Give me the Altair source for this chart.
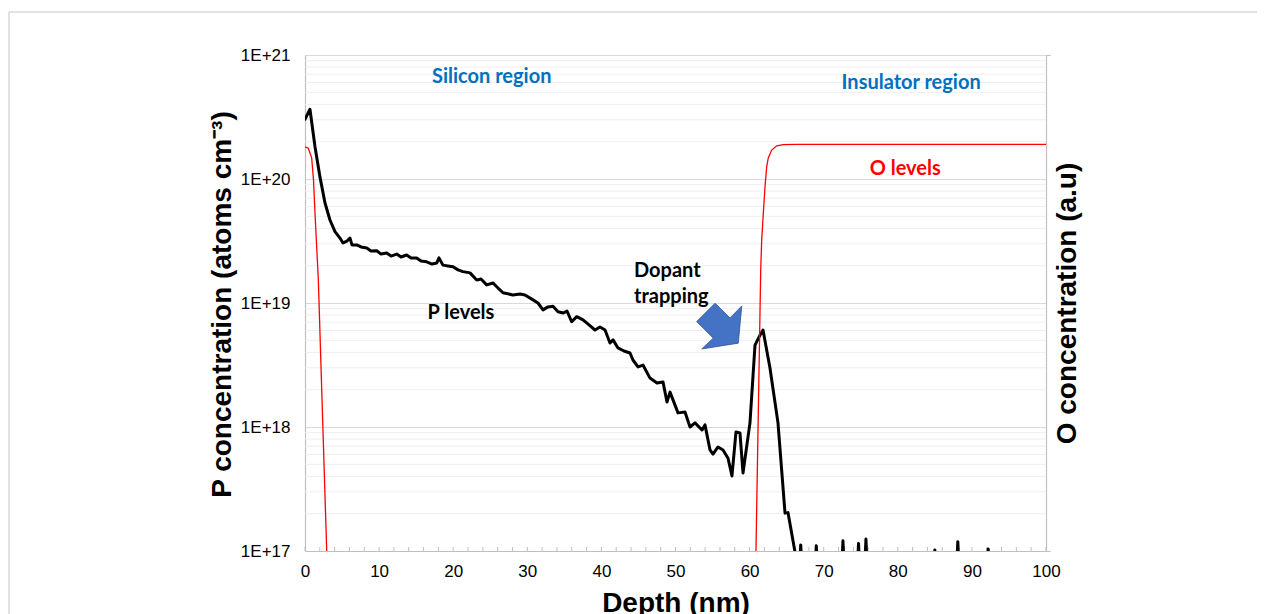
import altair as alt
import pandas as pd

# ---------------- data ----------------
# P (phosphorus) SIMS profile, atoms cm^-3 vs depth (nm)
depth_p = [0.0, 0.67, 1.35, 2.02, 2.70, 3.37, 4.05, 4.72, 5.13, 5.67,
           6.07, 6.34, 6.98, 7.56, 8.33, 8.91, 9.68, 10.26, 11.03, 11.61,
           12.38, 12.96, 13.72, 14.30, 15.07, 15.65, 16.42, 17.14, 17.77, 18.08,
           18.62, 19.30, 19.97, 20.65, 21.32, 22.27, 23.17, 23.75, 24.52, 25.37,
           26.05, 26.72, 28.07, 29.01, 29.69, 30.77, 31.44, 32.12, 32.79, 33.47,
           34.14, 34.86, 35.36, 35.99, 36.67, 37.52, 38.33, 39.14, 39.81, 40.49,
           41.16, 41.57, 42.24, 43.05, 43.86, 44.26, 44.94, 45.61, 46.56, 47.50,
           48.31, 48.85, 49.26, 50.34, 51.28, 51.96, 52.63, 53.58, 53.98, 54.66,
           55.06, 55.74, 56.41, 57.09, 57.62, 58.16, 58.70, 59.11, 60.05, 60.73,
           61.40, 61.81, 62.75, 63.83, 64.78, 65.18, 66.13, 66.45,
           66.6, 66.9, 67.2, 68.7, 69.0, 69.3, 72.3, 72.6, 72.9, 74.4,
           74.7, 75.0, 75.4, 75.7, 76.0, 84.7, 85.0, 85.3, 87.8, 88.1,
           88.4, 91.9, 92.2, 92.5, 100.0]
p_conc = [3.03e20, 3.65e20, 1.82e20, 1.04e20, 6.4e19, 4.67e19, 3.76e19, 3.34e19, 3.05e19, 3.16e19,
          3.34e19, 2.94e19, 2.94e19, 2.83e19, 2.78e19, 2.63e19, 2.64e19, 2.48e19, 2.53e19, 2.39e19,
          2.48e19, 2.35e19, 2.44e19, 2.31e19, 2.31e19, 2.18e19, 2.15e19, 2.06e19, 2.10e19, 2.31e19,
          2.02e19, 1.99e19, 1.96e19, 1.85e19, 1.79e19, 1.75e19, 1.53e19, 1.56e19, 1.40e19, 1.45e19,
          1.32e19, 1.21e19, 1.16e19, 1.18e19, 1.16e19, 1.06e19, 1.0e19, 8.8e18, 9.3e18, 9.4e18,
          8.5e18, 8.3e18, 8.6e18, 7.06e18, 7.76e18, 7.3e18, 6.65e18, 6.06e18, 6.4e18, 6.06e18,
          4.76e18, 5.04e18, 4.34e18, 4.1e18, 3.95e18, 3.47e18, 3.05e18, 3.16e18, 2.48e18, 2.26e18,
          2.31e18, 1.59e18, 1.91e18, 1.30e18, 1.32e18, 1.0e18, 1.08e18, 9.46e17, 1.04e18, 6.53e17,
          6.05e17, 6.9e17, 6.53e17, 5.6e17, 4.03e17, 9.1e17, 8.95e17, 4.26e17, 1.08e18, 4.58e18,
          5.5e18, 6.06e18, 2.99e18, 1.08e18, 2.02e17, 2.04e17, 9.8e16, 5e16,
          5e16, 1.12e17, 5e16, 5e16, 1.10e17, 5e16, 5e16, 1.21e17, 5e16, 5e16,
          1.15e17, 5e16, 5e16, 1.25e17, 5e16, 5e16, 1.02e17, 5e16, 5e16, 1.19e17,
          5e16, 5e16, 1.04e17, 5e16, 5e16]

# O profile (arbitrary units, drawn on the same log span), two segments
depth_o = [0.0, 0.45, 0.9, 1.15, 1.35, 1.8, 2.93, 3.2,
           60.8, 60.86, 61.5, 61.63, 61.85, 62.08, 62.31, 62.52, 62.98, 63.66, 64.55, 66.36, 100.0]
o_conc = [1.82e20, 1.77e20, 1.48e20, 9.8e19, 5.3e19, 1.53e19, 1.0e17, 5e16,
          5e16, 1.0e17, 1.85e19, 3.2e19, 5.3e19, 8.7e19, 1.26e20, 1.48e20, 1.71e20, 1.85e20, 1.89e20, 1.9e20, 1.9e20]
o_segment = ["surface"] * 8 + ["insulator"] * 13

# axis ticks
x_ticks = [0, 10, 20, 30, 40, 50, 60, 70, 80, 90, 100]
x_minor_ticks = list(range(0, 101, 2))
y_ticks = [1e17, 1e18, 1e19, 1e20, 1e21]
y_minor_ticks = [m * 10.0 ** e for e in range(17, 21) for m in range(2, 10)]

# annotations
ann_center_text = ["Silicon region", "Insulator region", "O levels", "P levels"]
ann_center_x = [25.2, 81.8, 81.0, 21.05]
ann_center_y = [6.65e20, 5.94e20, 1.2e20, 8.3e18]
ann_center_color = ["#0070C0", "#0070C0", "#FF0000", "#000000"]
ann_left_text = ["Dopant", "trapping"]
ann_left_x = [44.4, 44.4]
ann_left_y = [1.81e19, 1.12e19]
arrow_x = [55.9]
arrow_y = [6.53e18]

assert len(depth_p) == len(p_conc)
assert len(depth_o) == len(o_conc) == len(o_segment)

# ---------------- chart ----------------
W, H = 741, 496
AX = "#BFBFBF"


def xs():
    return alt.Scale(domain=[0, 100], nice=False, zero=False)


def ys():
    return alt.Scale(type="log", domain=[1e17, 1e21], nice=False)


p_df = pd.DataFrame({"depth": depth_p, "p": p_conc})
o_df = pd.DataFrame({"depth": depth_o, "o": o_conc, "seg": o_segment})

one = alt.Data(values=[{}])
frame_top = alt.Chart(one).mark_rule(color="#D9D9D9", strokeWidth=1.5).encode(
    x=alt.value(-296), x2=alt.value(W + 220), y=alt.value(-43))
frame_left = alt.Chart(one).mark_rule(color="#D9D9D9", strokeWidth=1.5).encode(
    x=alt.value(-296), y=alt.value(-43), y2=alt.value(H + 80))

minor_grid = alt.Chart(pd.DataFrame({"v": y_minor_ticks})).mark_rule(
    color="#EEEEEE", strokeWidth=1).encode(
    y=alt.Y("v:Q", scale=ys(), axis=None), x=alt.value(0), x2=alt.value(W))

x_minor = alt.Chart(pd.DataFrame({"t": x_minor_ticks})).mark_rule(
    color=AX, strokeWidth=1).encode(
    x=alt.X("t:Q", scale=xs(), axis=None), y=alt.value(H - 4), y2=alt.value(H))

x_axis = alt.Axis(values=x_ticks, grid=False, ticks=False, domainColor=AX, domainWidth=1.2,
                  labelFont="Liberation Sans", labelFontSize=17, labelColor="#000000",
                  labelPadding=12, labelFlush=False,
                  title="Depth (nm)", titleFont="Liberation Sans", titleFontSize=28,
                  titleFontWeight="bold", titleColor="#000000", titleY=60.5,
                  titleBaseline="alphabetic")
y_axis = alt.Axis(values=y_ticks, grid=True, gridColor="#D9D9D9", ticks=False,
                  domainColor=AX, domainWidth=1.2,
                  labelExpr="'1E+' + round(log(datum.value) / LN10)",
                  labelFont="Liberation Sans", labelFontSize=17, labelColor="#000000",
                  labelPadding=15, labelFlush=False,
                  title="P concentration (atoms cm\u207b\u00b3)", titleFont="Liberation Sans",
                  titleFontSize=28, titleFontWeight="bold", titleColor="#000000",
                  titleAngle=270, titleX=-75, titleY=249, titleAlign="center",
                  titleBaseline="alphabetic")

p_line = alt.Chart(p_df).mark_line(color="#000000", strokeWidth=3, clip=True,
                                    strokeJoin="round", strokeCap="round").encode(
    x=alt.X("depth:Q", scale=xs(), axis=x_axis),
    y=alt.Y("p:Q", scale=ys(), axis=y_axis),
    order="depth:Q")

center_df = pd.DataFrame({"t": ann_center_text, "x": ann_center_x, "y": ann_center_y,
                          "c": ann_center_color})
texts_c = alt.Chart(center_df).mark_text(font="Lato", fontWeight="bold", fontSize=20,
                                          align="center", baseline="middle").encode(
    x=alt.X("x:Q", scale=xs(), axis=None), y=alt.Y("y:Q", scale=ys(), axis=None),
    text="t:N", color=alt.Color("c:N", scale=None))

left_df = pd.DataFrame({"t": ann_left_text, "x": ann_left_x, "y": ann_left_y})
texts_l = alt.Chart(left_df).mark_text(font="Lato", fontWeight="bold", fontSize=20,
                                        align="left", baseline="middle", color="#000000").encode(
    x=alt.X("x:Q", scale=xs(), axis=None), y=alt.Y("y:Q", scale=ys(), axis=None),
    text="t:N")

arrow_path = "M -0.98 -0.19 L -0.18 -0.99 L 0.47 -0.35 L 0.98 -0.87 L 0.83 0.75 L -0.76 1 L -0.26 0.53 Z"
arrow = alt.Chart(pd.DataFrame({"x": arrow_x, "y": arrow_y})).mark_point(
    shape=arrow_path, filled=True, size=2116, fill="#4472C4", stroke="#2F5597",
    strokeWidth=0.8, opacity=1).encode(
    x=alt.X("x:Q", scale=xs(), axis=None), y=alt.Y("y:Q", scale=ys(), axis=None))

o_axis = alt.Axis(orient="right", values=y_ticks[::4], grid=False, labels=False,
                  ticks=True, tickSize=4, tickColor=AX, domainColor=AX, domainWidth=1.2,
                  title="O concentration (a.u)", titleFont="Liberation Sans", titleFontSize=28,
                  titleFontWeight="bold", titleColor="#000000", titleAngle=270,
                  titleX=29, titleY=248, titleAlign="center", titleBaseline="alphabetic")
o_line = alt.Chart(o_df).mark_line(color="#FF0000", strokeWidth=1.3, clip=True).encode(
    x=alt.X("depth:Q", scale=xs(), axis=None),
    y=alt.Y("o:Q", scale=ys(), axis=o_axis),
    detail="seg:N", order="depth:Q")

chart = alt.layer(frame_top, frame_left, minor_grid, x_minor, p_line, texts_c, texts_l,
                  arrow, o_line).resolve_scale(x="independent", y="independent").properties(
    width=W, height=H,
    autosize=alt.AutoSizeParams(type="none"),
    padding={"left": 297, "top": 47, "right": 211, "bottom": 70},
).configure_view(strokeWidth=0).configure(background="white")

chart.save("out.html", embed_options={"renderer": "svg", "actions": False})
